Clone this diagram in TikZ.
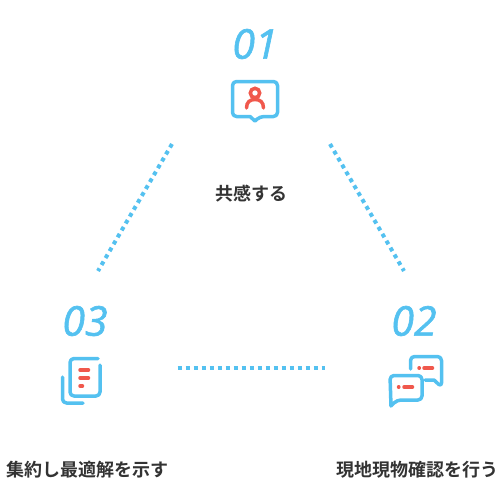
\documentclass[tikz,border=0pt]{standalone}
\usepackage{fontspec}
\setmainfont{Open Sans}[ItalicFeatures={FakeBold=1.5}]
\newfontfamily\jpfont{Noto Sans CJK JP}[BoldFont={Noto Sans CJK JP Bold}]
\usetikzlibrary{positioning}
\definecolor{cblue}{RGB}{84,193,240}
\definecolor{cred}{RGB}{240,88,76}
\definecolor{ctext}{RGB}{51,51,51}

\begin{document}
\begin{tikzpicture}[
    x=1pt, y=-1pt,
    num/.style={text=cblue, font=\fontsize{41}{41}\selectfont\itshape, inner sep=0pt},
    caption/.style={text=ctext, font=\fontsize{18}{18}\selectfont\jpfont\bfseries, inner sep=0pt},
    link/.style={cblue, line width=4pt, dash pattern=on 4pt off 4pt},
    icon/.style={cblue, line width=3.5pt, line cap=round, line join=round, rounded corners=4pt},
    accent/.style={cred, line width=3.5pt, line cap=round},
]
    \useasboundingbox (0, 0) rectangle (501, 479);

    % Numbers
    \node[num] (one) at (255, 44) {01};
    \node[num] (two) at (414, 321) {02};
    \node[num] (three) at (85, 321) {03};

    % Labels
    \node[caption] (center) at (251, 194) {共感する};
    \node[caption] (left) at (87, 470) {集約し最適解を示す};
    \node[caption] (right) at (417, 470) {現地現物確認を行う};

    % Dotted sides
    \coordinate (a1) at (172, 144);
    \coordinate (a2) at (98, 271);
    \coordinate (b1) at (330, 144);
    \coordinate (b2) at (404, 271);
    \coordinate (c1) at (325, 368);
    \coordinate (c2) at (177.5, 368);
    \draw[link] (a1) -- (a2);
    \draw[link] (b1) -- (b2);
    \draw[link] (c2) -- (c1);

    % Icon 01
    \draw[icon] (232.5, 81.5) -- (277.5, 81.5) -- (277.5, 116.5) -- (260, 116.5)
        [sharp corners] -- (255, 121) -- (250, 116.5) [rounded corners=4pt] -- (232.5, 116.5) -- cycle;
    \draw[cred, line width=3.5pt] (255, 93) circle (4.7);
    \draw[accent] (246.5, 108) .. controls (246.5, 102) and (250, 99.5) .. (255, 99.5)
        .. controls (260, 99.5) and (263.5, 102) .. (263.5, 108);

    % Icon 02
    \draw[icon] (410.5, 369) -- (410.5, 356.5) -- (441.5, 356.5) -- (441.5, 387)
        [sharp corners] -- (434, 380) [rounded corners=4pt] -- (425, 380);
    \draw[icon] (390, 375.5) -- (422, 375.5) -- (422, 400) -- (397, 400)
        [sharp corners] -- (391, 406) [rounded corners=4pt] -- cycle;
    \draw[accent] (419, 368) -- (419.3, 368);
    \draw[accent] (424, 368) -- (432.5, 368);
    \draw[accent] (398.5, 387) -- (398.8, 387);
    \draw[accent] (404, 387) -- (412.5, 387);

    % Icon 03
    \draw[icon] (98, 358.5) -- (70, 358.5) -- (70, 396) -- (100, 396) -- (100, 365);
    \draw[icon] (62.5, 377) -- (62.5, 403) -- (83, 403);
    \draw[accent] (80, 370) -- (88.5, 370);
    \draw[accent] (80, 378) -- (88.5, 378);
    \draw[accent] (80, 386) -- (82.5, 386);
\end{tikzpicture}
\end{document}
